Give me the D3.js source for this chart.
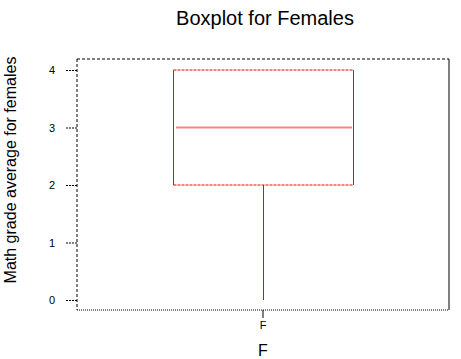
<!DOCTYPE html>
<html><head><meta charset="utf-8">
<script src="https://cdn.jsdelivr.net/npm/d3@7"></script>
<style>body{margin:0;background:#fff}svg{display:block}text{font-family:"Liberation Sans",Arial,sans-serif}</style>
</head><body>
<script>
const categories = ["F"];
const minVals = [0];
const q1Vals = [2];
const medianVals = [3];
const q3Vals = [4];
const maxVals = [4];
const yTicks = [0, 1, 2, 3, 4];

const W = 461, H = 359;
const svg = d3.select("body").append("svg").attr("width", W).attr("height", H);
const plot = {l: 77, t: 59, r: 449, b: 310};

const y = d3.scaleLinear().domain([0, 4]).range([300, 70]);
const x = d3.scaleBand().domain(categories).range([plot.l, plot.r]).paddingInner(0).paddingOuter(0);
const boxW = 180;

// frame
svg.append("line").attr("x1", plot.l).attr("x2", plot.r).attr("y1", plot.t).attr("y2", plot.t).attr("stroke", "#000").attr("stroke-dasharray", "3,2");
svg.append("line").attr("x1", plot.l).attr("x2", plot.l).attr("y1", plot.t).attr("y2", plot.b).attr("stroke", "#000").attr("stroke-dasharray", "3,2");
svg.append("line").attr("x1", plot.l).attr("x2", plot.r).attr("y1", plot.b).attr("y2", plot.b).attr("stroke", "#000").attr("stroke-dasharray", "1,1");
svg.append("line").attr("x1", plot.r).attr("x2", plot.r).attr("y1", plot.t).attr("y2", plot.b).attr("stroke", "#000");

// y axis
const yAxis = d3.axisLeft(y).tickValues(yTicks).tickSize(12).tickPadding(10).tickFormat(d3.format("d"));
const ya = svg.append("g").attr("transform", `translate(${plot.l},0)`).call(yAxis);
ya.select(".domain").remove();
ya.selectAll(".tick line").attr("stroke-dasharray", "2,1");
ya.selectAll(".tick text").attr("font-size", 11).attr("font-family", '"Liberation Sans",Arial,sans-serif');

// x axis
const xAxis = d3.axisBottom(x).tickSize(8).tickPadding(3);
const xa = svg.append("g").attr("transform", `translate(0,${plot.b})`).call(xAxis);
xa.select(".domain").remove();
xa.selectAll(".tick text").attr("font-size", 11).attr("font-family", '"Liberation Sans",Arial,sans-serif');

// boxes
const red = "#ff0000";
categories.forEach((c, i) => {
  const cx = x(c) + x.bandwidth() / 2 + 0.5;
  const x0 = cx - boxW / 2, x1 = cx + boxW / 2;
  svg.append("line").attr("x1", cx).attr("x2", cx).attr("y1", y(minVals[i])).attr("y2", y(q1Vals[i])).attr("stroke", red);
  svg.append("line").attr("x1", x0).attr("x2", x0).attr("y1", y(q3Vals[i])).attr("y2", y(q1Vals[i])).attr("stroke", red);
  svg.append("line").attr("x1", x1).attr("x2", x1).attr("y1", y(q3Vals[i])).attr("y2", y(q1Vals[i])).attr("stroke", red);
  svg.append("line").attr("x1", x0).attr("x2", x1).attr("y1", y(q3Vals[i])).attr("y2", y(q3Vals[i])).attr("stroke", red).attr("stroke-dasharray", "3,1");
  svg.append("line").attr("x1", x0).attr("x2", x1).attr("y1", y(q1Vals[i])).attr("y2", y(q1Vals[i])).attr("stroke", red).attr("stroke-dasharray", "3,1");
  svg.append("line").attr("x1", x0 + 3).attr("x2", x1 - 1).attr("y1", y(medianVals[i])).attr("y2", y(medianVals[i])).attr("stroke", red).attr("stroke-width", 2).attr("stroke-dasharray", "1,1");
});

// titles
svg.append("text").attr("x", 265).attr("y", 25).attr("text-anchor", "middle").attr("font-size", 20).text("Boxplot for Females");
svg.append("text").attr("transform", "translate(16,170) rotate(-90)").attr("text-anchor", "middle").attr("font-size", 16).text("Math grade average for females");
svg.append("text").attr("x", 263).attr("y", 356).attr("text-anchor", "middle").attr("font-size", 16).text("F");
</script>
</body></html>
